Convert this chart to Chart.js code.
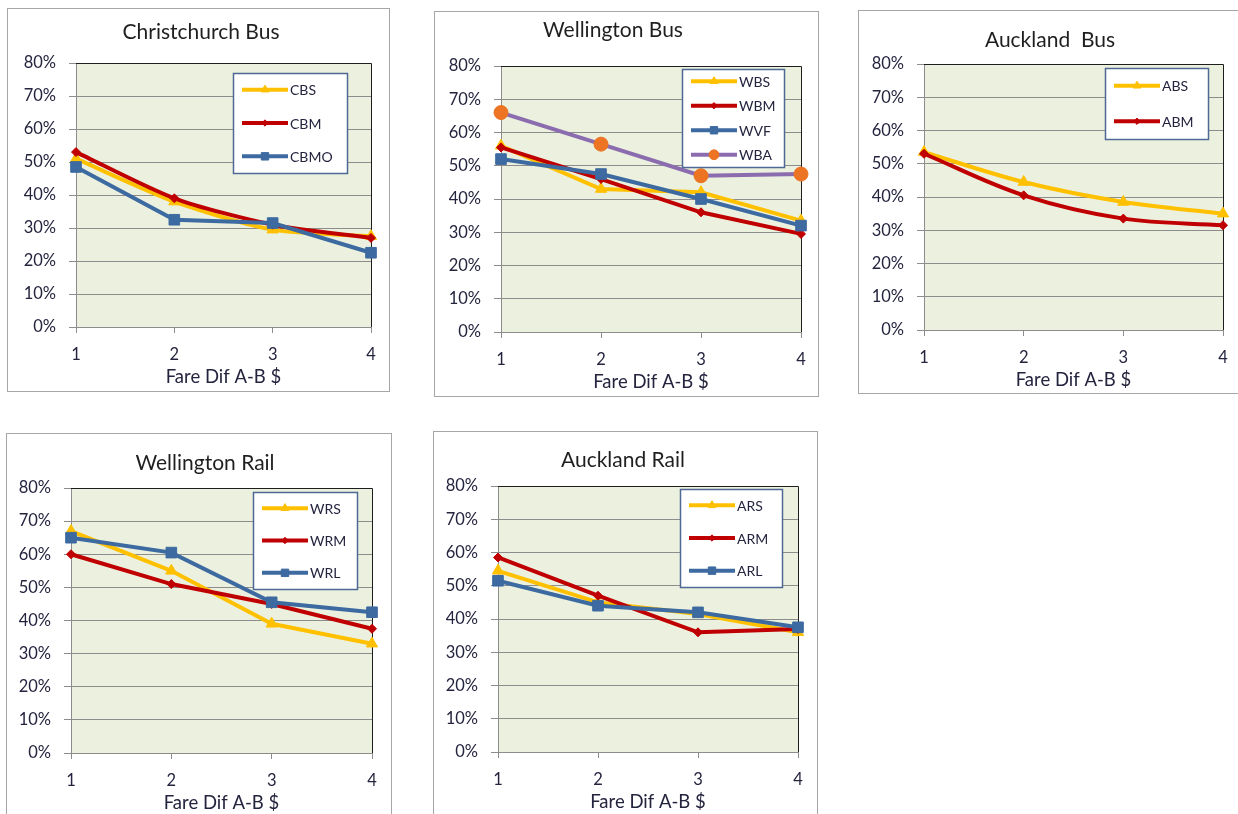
<!DOCTYPE html>
<html>
<head>
<meta charset="utf-8">
<title>Fare difference A-B</title>
<script src="https://cdn.jsdelivr.net/npm/chart.js@4.4.0/dist/chart.umd.min.js"></script>
<style>
  html, body { margin: 0; padding: 0; background: #fff; width: 1238px; height: 814px; overflow: hidden; position: relative; }
  .frame { position: absolute; border: 1px solid #a6a6a6; box-sizing: border-box; }
  canvas { position: absolute; }
</style>
</head>
<body>
<script>
// x categories: fare difference between A and B in dollars
const fareDiff = ['1', '2', '3', '4'];

// Christchurch bus (%)
const cbs  = [51, 38, 29.5, 27.5];
const cbm  = [53, 39, 31, 27];
const cbmo = [48.5, 32.5, 31.5, 22.5];

// Wellington bus (%)
const wbs = [56, 43, 42, 33.5];
const wbm = [55.5, 46, 36, 29.5];
const wvf = [52, 47.5, 40, 32];
const wba = [66, 56.5, 47, 47.5];

// Auckland bus (%)
const abs = [53.5, 44.5, 38.5, 35];
const abm = [53, 40.5, 33.5, 31.5];

// Wellington rail (%)
const wrs = [67, 55, 39, 33];
const wrm = [60, 51, 45, 37.5];
const wrl = [65, 60.5, 45.5, 42.5];

// Auckland rail (%)
const ars = [54.5, 45, 41.5, 36];
const arm = [58.5, 47, 36, 37];
const arl = [51.5, 44, 42, 37.5];

const FONT = 'Lato, "Open Sans", sans-serif';
const TEXT = '#24243f';

const styles = {
  s: { color: '#FFC000', pointStyle: 'triangle', radius: 6.5 },
  m: { color: '#C00000', pointStyle: 'rectRot', radius: 4.5 },
  l: { color: '#3D6AA0', pointStyle: 'rect', radius: 7.5 },
  a: { line: '#8B6DAF', color: '#EC7422', pointStyle: 'circle', radius: 7 }
};

function series(label, data, style, tension) {
  return {
    label: label,
    data: data,
    borderColor: style.line || style.color,
    backgroundColor: style.color,
    pointBackgroundColor: style.color,
    pointBorderColor: style.color,
    pointStyle: style.pointStyle,
    pointRadius: style.radius,
    pointHoverRadius: style.radius,
    pointBorderWidth: 1,
    borderWidth: 4,
    tension: tension || 0,
    fill: false
  };
}

// page boxes (outer frame + plot area) for each chart
const panels = [
  { title: 'Christchurch Bus', box: { x: 7, y: 8, w: 383, h: 384 }, plot: { l: 76, t: 63, r: 371, b: 327 },
    titleX: 201, titleY: 32, legend: { right: 24, top: 10, w: 114, h: 100 },
    datasets: [series('CBS', cbs, styles.s, 0.25), series('CBM', cbm, styles.m, 0.25), series('CBMO', cbmo, styles.l)] },
  { title: 'Wellington Bus', box: { x: 434, y: 11, w: 385, h: 386 }, plot: { l: 501, t: 66, r: 801, b: 332 },
    titleX: 613, titleY: 30, legend: { right: 17, top: 3, w: 102, h: 98 },
    datasets: [series('WBS', wbs, styles.s), series('WBM', wbm, styles.m), series('WVF', wvf, styles.l), series('WBA', wba, styles.a)] },
  { title: 'Auckland  Bus', box: { x: 858, y: 10, w: 390, h: 384 }, plot: { l: 924, t: 64, r: 1223, b: 330 },
    titleX: 1050, titleY: 40, legend: { right: 15, top: 4, w: 103, h: 71 },
    datasets: [series('ABS', abs, styles.s, 0.35), series('ABM', abm, styles.m, 0.35)] },
  { title: 'Wellington Rail', box: { x: 6, y: 433, w: 386, h: 420 }, plot: { l: 71, t: 488, r: 372, b: 753 },
    titleX: 205, titleY: 463, legend: { right: 15, top: 4, w: 104, h: 97 },
    datasets: [series('WRS', wrs, styles.s), series('WRM', wrm, styles.m), series('WRL', wrl, styles.l)] },
  { title: 'Auckland Rail', box: { x: 433, y: 431, w: 385, h: 420 }, plot: { l: 498, t: 486, r: 798, b: 752 },
    titleX: 623, titleY: 460, legend: { right: 16, top: 3, w: 102, h: 98 },
    datasets: [series('ARS', ars, styles.s), series('ARM', arm, styles.m), series('ARL', arl, styles.l)] }
];

// plot fill, dark top/right frame, chart title and boxed legend
const panelDecor = {
  id: 'panelDecor',
  beforeDraw(chart) {
    const { ctx, chartArea: a } = chart;
    ctx.save();
    ctx.fillStyle = '#EBF1DE';
    ctx.fillRect(a.left, a.top, a.right - a.left, a.bottom - a.top);
    ctx.restore();
  },
  beforeDatasetsDraw(chart) {
    const { ctx, chartArea: a } = chart;
    ctx.save();
    ctx.strokeStyle = '#1e1e1e';
    ctx.lineWidth = 1;
    ctx.beginPath();
    ctx.moveTo(a.left, a.top + 0.5);
    ctx.lineTo(a.right + 0.5, a.top + 0.5);
    ctx.lineTo(a.right + 0.5, a.bottom);
    ctx.stroke();
    ctx.restore();
  },
  afterDraw(chart, args, opts) {
    const { ctx, chartArea: a } = chart;
    ctx.save();
    ctx.font = '21px ' + FONT;
    ctx.fillStyle = '#1f1f1f';
    ctx.textAlign = 'center';
    ctx.textBaseline = 'middle';
    ctx.fillText(opts.title, opts.titleX, opts.titleY);

    const L = opts.legend;
    const bx = Math.round(a.right - L.right - L.w);
    const by = Math.round(a.top + L.top);
    ctx.fillStyle = '#ffffff';
    ctx.fillRect(bx, by, L.w, L.h);
    ctx.strokeStyle = '#4d6a94';
    ctx.lineWidth = 1.5;
    ctx.strokeRect(bx + 0.5, by + 0.5, L.w, L.h);

    const sets = chart.data.datasets;
    const n = sets.length;
    sets.forEach((ds, i) => {
      const cy = by + L.h / (2 * n) + i * L.h / n;
      const x0 = bx + 9, x1 = x0 + 46;
      ctx.strokeStyle = ds.borderColor;
      ctx.lineWidth = 4;
      ctx.beginPath();
      ctx.moveTo(x0, cy);
      ctx.lineTo(x1, cy);
      ctx.stroke();
      ctx.fillStyle = ds.pointBackgroundColor;
      ctx.strokeStyle = ds.pointBorderColor;
      ctx.lineWidth = 1;
      Chart.helpers.drawPoint(ctx, { pointStyle: ds.pointStyle, radius: ds.pointRadius * 0.7, borderWidth: 1, rotation: 0 }, (x0 + x1) / 2, cy);
      ctx.font = '14px ' + FONT;
      ctx.fillStyle = TEXT;
      ctx.textAlign = 'left';
      ctx.textBaseline = 'middle';
      ctx.fillText(ds.label, x1 + 2, cy + 1);
    });
    ctx.restore();
  }
};

panels.forEach(p => {
  const frame = document.createElement('div');
  frame.className = 'frame';
  frame.style.left = p.box.x + 'px';
  frame.style.top = p.box.y + 'px';
  frame.style.width = p.box.w + 'px';
  frame.style.height = p.box.h + 'px';
  document.body.appendChild(frame);

  const xAxisH = 62;
  const cw = p.box.w;
  const ch = p.plot.b - p.box.y + xAxisH;
  const canvas = document.createElement('canvas');
  canvas.width = cw;
  canvas.height = ch;
  canvas.style.left = p.box.x + 'px';
  canvas.style.top = p.box.y + 'px';
  canvas.style.width = cw + 'px';
  canvas.style.height = ch + 'px';
  document.body.appendChild(canvas);

  // Excel draws later series on top
  p.datasets.forEach((ds, i) => { ds.order = p.datasets.length - i; });

  const yAxisW = p.plot.l - p.box.x;
  const titleSize = 18.5;

  new Chart(canvas.getContext('2d'), {
    type: 'line',
    data: { labels: fareDiff, datasets: p.datasets },
    options: {
      responsive: false,
      animation: false,
      devicePixelRatio: 1,
      layout: { padding: { top: p.plot.t - p.box.y, right: p.box.x + p.box.w - p.plot.r, bottom: 0, left: 0 } },
      scales: {
        x: {
          type: 'category',
          offset: false,
          afterFit: s => { s.height = xAxisH; },
          grid: { display: true, drawOnChartArea: false, drawTicks: true, tickLength: 6, color: '#8c8c8c' },
          border: { display: true, color: '#8c8c8c', width: 1 },
          ticks: { color: TEXT, font: { family: FONT, size: 16.5 }, padding: 12, maxRotation: 0 },
          title: { display: true, text: 'Fare Dif A-B $', color: TEXT, font: { family: FONT, size: titleSize, lineHeight: 1.2 },
                   padding: { top: 0, bottom: xAxisH - 50 - titleSize * 0.6 } }
        },
        y: {
          min: 0,
          max: 80,
          afterFit: s => { s.width = yAxisW; },
          grid: { color: '#8c8c8c', lineWidth: 1, drawTicks: true, tickLength: 7 },
          border: { display: true, color: '#8c8c8c', width: 1 },
          ticks: { stepSize: 10, color: TEXT, font: { family: FONT, size: 16.5 }, padding: 13, callback: v => v + '%' }
        }
      },
      plugins: {
        legend: { display: false },
        title: { display: false },
        tooltip: { enabled: false },
        panelDecor: { title: p.title, titleX: p.titleX - p.box.x, titleY: p.titleY - p.box.y, legend: p.legend }
      }
    },
    plugins: [panelDecor]
  });
});
</script>
</body>
</html>
